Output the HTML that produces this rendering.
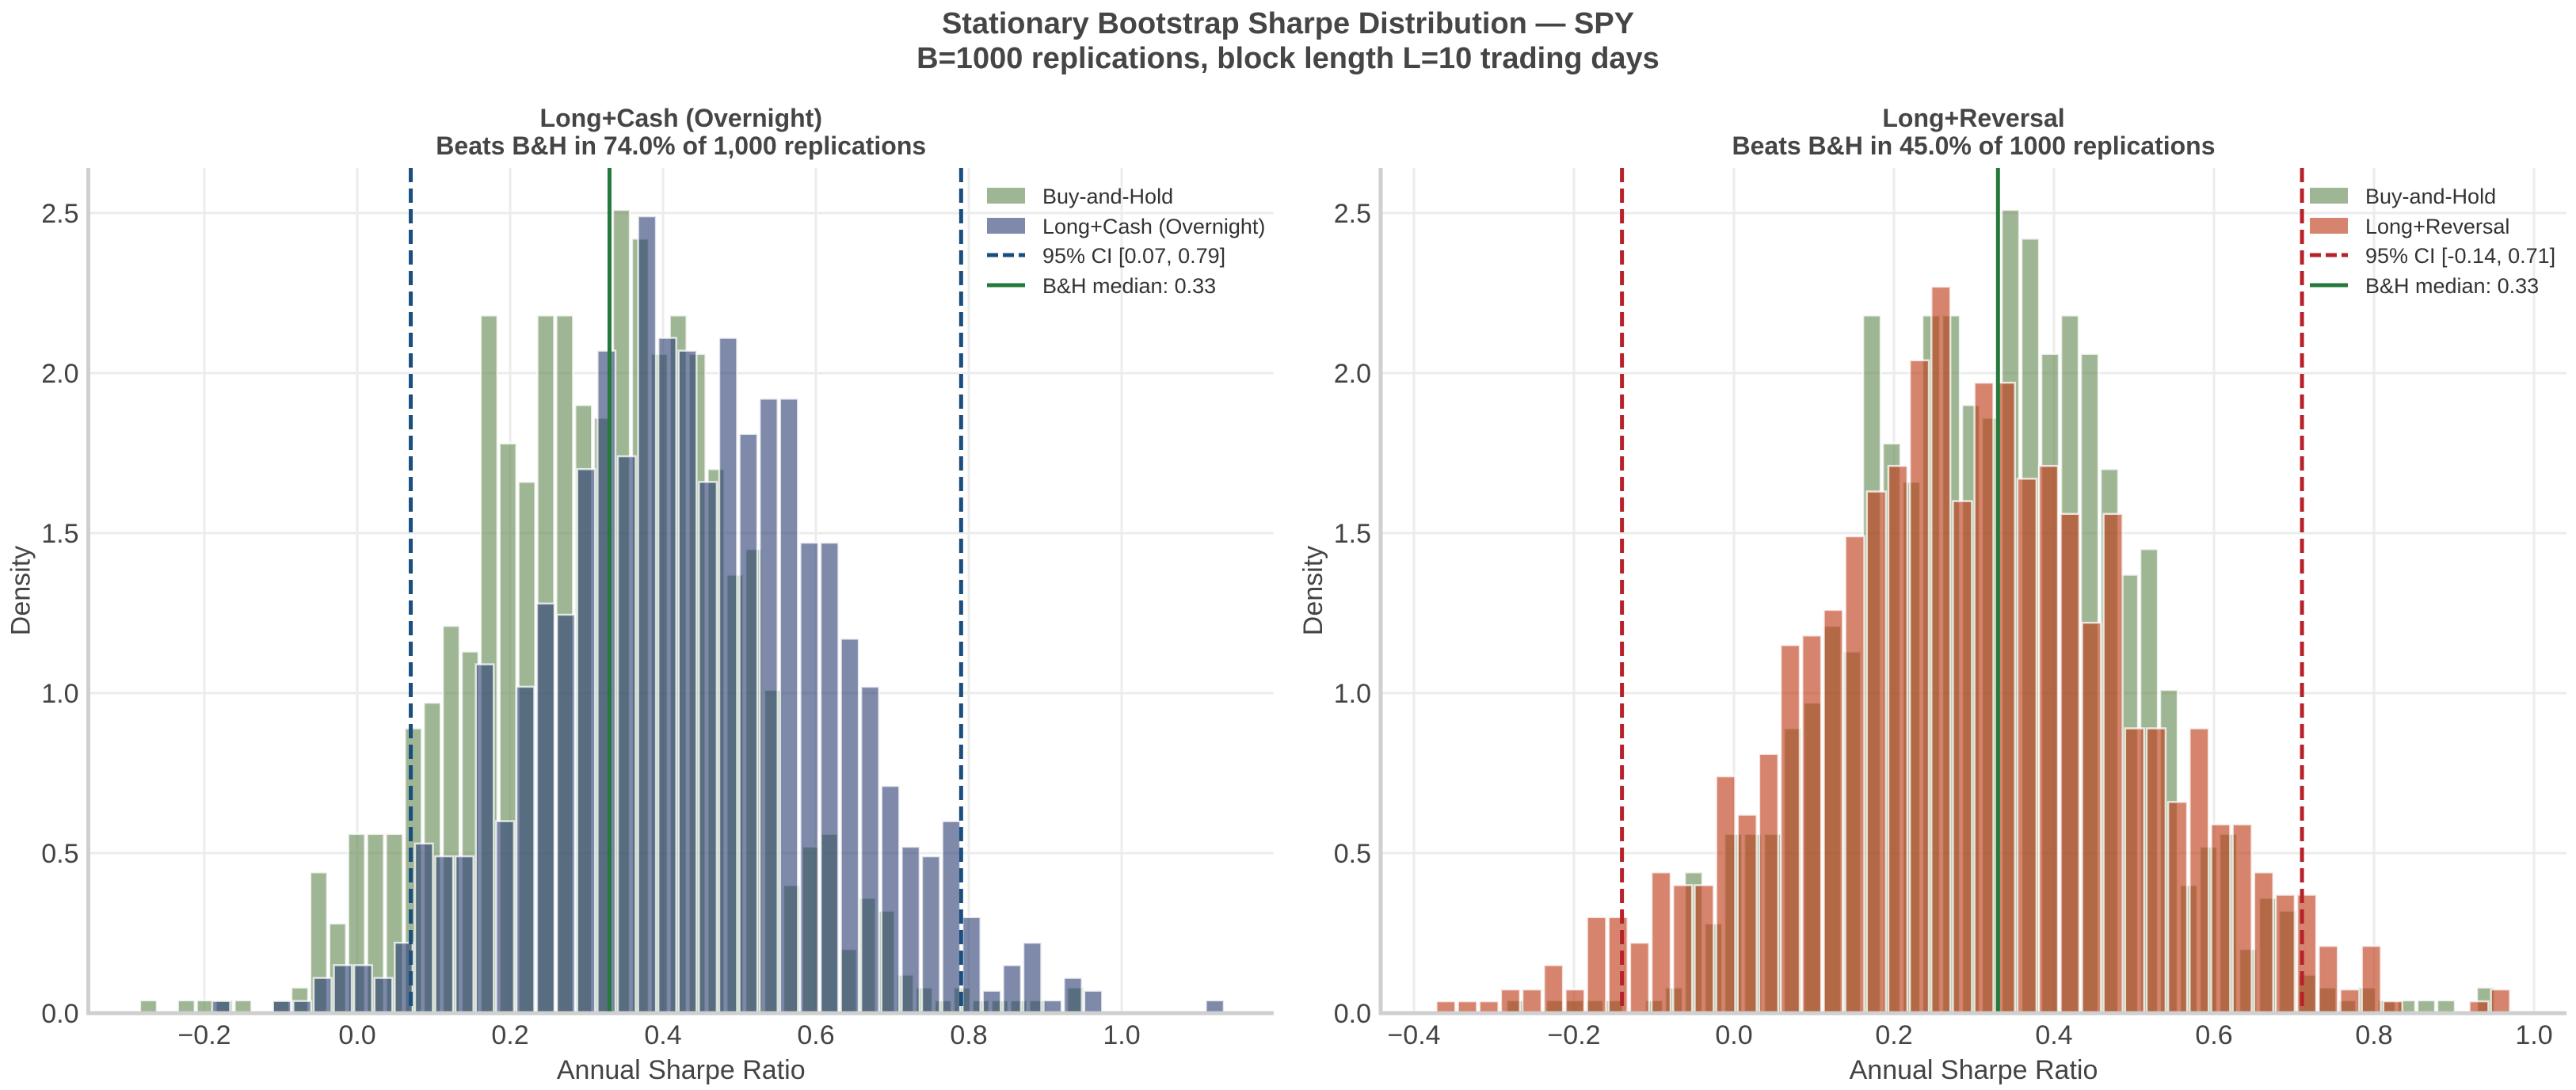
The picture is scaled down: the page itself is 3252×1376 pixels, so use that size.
<!DOCTYPE html>
<html><head><meta charset="utf-8"><style>
html,body{margin:0;padding:0;background:#fff;}
svg{display:block;font-family:"Liberation Sans",sans-serif;}
</style></head><body>
<svg id="chart" width="3252" height="1376" viewBox="0 0 3252 1376" xmlns="http://www.w3.org/2000/svg">
<text x="1626" y="42" text-anchor="middle" font-size="38" font-weight="bold" fill="#454545">Stationary Bootstrap Sharpe Distribution — SPY</text>
<text x="1626" y="86" text-anchor="middle" font-size="38" font-weight="bold" fill="#454545">B=1000 replications, block length L=10 trading days</text>
<g id="left"></g>
<g id="right"></g>
</svg>
<script>
// Buy-and-Hold density (50 bins)
const bhStart = -0.2855;
const bhWidth = 0.02475;
const bhDensity = [0.04,0,0.04,0.04,0.04,0.04,0,0.04,0.08,0.44,0.28,0.56,0.56,0.56,0.89,0.97,1.21,1.13,2.18,1.78,1.66,2.18,2.18,1.90,1.86,2.51,2.42,2.06,2.18,2.06,1.70,1.37,1.45,1.01,0.40,0.52,0.56,0.20,0.36,0.32,0.12,0.08,0.04,0.08,0.04,0.04,0.04,0.04,0,0.08];
// Long+Cash (Overnight) density
const lcStart = -0.1913;
const lcWidth = 0.02653;
const lcDensity = [0.038,0,0,0.038,0.038,0.11,0.15,0.15,0.11,0.22,0.53,0.49,0.49,1.09,0.60,1.02,1.28,1.245,1.70,2.07,1.74,2.49,2.11,2.07,1.66,2.11,1.81,1.92,1.92,1.47,1.47,1.17,1.02,0.71,0.52,0.49,0.60,0.30,0.07,0.15,0.22,0.04,0.11,0.07,0,0,0,0,0,0.04];
// Long+Reversal density
const lrStart = -0.3735;
const lrWidth = 0.0269;
const lrDensity = [0.037,0.037,0.037,0.074,0.074,0.15,0.074,0.30,0.30,0.22,0.44,0.40,0.40,0.74,0.62,0.81,1.15,1.18,1.26,1.49,1.63,1.71,2.04,2.27,1.60,1.97,1.97,1.67,1.71,1.56,1.22,1.56,0.89,0.89,0.66,0.89,0.59,0.59,0.44,0.37,0.37,0.21,0.074,0.21,0.037,0,0,0,0.037,0.074];
// Reference lines
const leftCI = [0.07, 0.79];
const rightCI = [-0.14, 0.71];
const bhMedian = 0.33;
const yTicks = [0.0, 0.5, 1.0, 1.5, 2.0, 2.5];
const leftXTicks = [-0.2, 0.0, 0.2, 0.4, 0.6, 0.8, 1.0];
const rightXTicks = [-0.4, -0.2, 0.0, 0.2, 0.4, 0.6, 0.8, 1.0];

const NS = "http://www.w3.org/2000/svg";
function mk(parent, tag, attrs, text){
  const e = document.createElementNS(NS, tag);
  for (const k in attrs) e.setAttribute(k, attrs[k]);
  if (text !== undefined) e.textContent = text;
  parent.appendChild(e);
  return e;
}
function fmt(v){ return (v < 0 ? "\u2212" : "") + Math.abs(v).toFixed(1); }

function panel(g, cfg){
  const L = cfg.left, R = cfg.right, T = 212, B = 1279;
  const xs = v => cfg.x0 + v * cfg.xu;
  const ys = v => B - v * 404;
  // grid
  yTicks.forEach(t => {
    const gl = mk(g, "line", {x1:L, x2:R, y1:ys(t), y2:ys(t), stroke:"#ececec", "stroke-width":3});
    
    
  });
  cfg.xticks.forEach(t => {
    const gl = mk(g, "line", {x1:xs(t), x2:xs(t), y1:T, y2:B, stroke:"#ececec", "stroke-width":3});
    
    
  });
  // histograms
  function hist(start, w, dens, fill, op, name){
    dens.forEach((d, i) => {
      if (d <= 0) return;
      const x = xs(start + i * w), wpx = w * cfg.xu;
      const r = mk(g, "rect", {x:x + wpx*0.06, y:ys(d), width:wpx*0.88, height:B - ys(d), fill:fill, "fill-opacity":op, stroke:"#ffffff", "stroke-opacity":0.75, "stroke-width":2.5});
      
      
    });
  }
  hist(bhStart, bhWidth, bhDensity, "rgb(107,143,90)", 0.65, "bh-bar");
  hist(cfg.sStart, cfg.sWidth, cfg.sDens, cfg.sColor, cfg.sOp, cfg.sName);
  // CI lines
  cfg.ci.forEach(v => {
    const l = mk(g, "line", {x1:xs(v), x2:xs(v), y1:T, y2:B, stroke:cfg.ciColor, "stroke-width":5, "stroke-dasharray":"18,8"});
    
    
  });
  const m = mk(g, "line", {x1:xs(bhMedian), x2:xs(bhMedian), y1:T, y2:B, stroke:"#237a3b", "stroke-width":5});
  
  
  // spines
  const sl = mk(g, "line", {x1:L, x2:L, y1:T, y2:B+2, stroke:"#cfcfcf", "stroke-width":5});
  
  
  const sb = mk(g, "line", {x1:L-2, x2:R, y1:B, y2:B, stroke:"#cfcfcf", "stroke-width":5});
  
  
  // tick labels
  yTicks.forEach(t => {
    const tl = mk(g, "text", {x:L-12, y:ys(t)+12, "text-anchor":"end", "font-size":34, fill:"#444"}, t.toFixed(1));
    
    
  });
  cfg.xticks.forEach(t => {
    const tl = mk(g, "text", {x:xs(t), y:1318, "text-anchor":"middle", "font-size":34, fill:"#444"}, fmt(t));
    
    
  });
  const xl = mk(g, "text", {x:(L+R)/2, y:1362, "text-anchor":"middle", "font-size":34, fill:"#444"}, "Annual Sharpe Ratio");
  
  
  const yl = mk(g, "text", {x:0, y:0, "text-anchor":"middle", "font-size":34, fill:"#444", transform:`translate(${L-74},${(T+B)/2}) rotate(-90)`}, "Density");
  
  
  // titles
  const t1 = mk(g, "text", {x:(L+R)/2, y:160, "text-anchor":"middle", "font-size":32, "font-weight":"bold", fill:"#454545"}, cfg.title1);
  
  
  const t2 = mk(g, "text", {x:(L+R)/2, y:195, "text-anchor":"middle", "font-size":32, "font-weight":"bold", fill:"#454545"}, cfg.title2);
  
  
  // legend
  const lx = cfg.legX, ly = [247, 285, 322, 360];
  const items = [
    {t:"Buy-and-Hold", kind:"patch", c:"rgb(107,143,90)", o:0.65},
    {t:cfg.sLabel, kind:"patch", c:cfg.sColor, o:cfg.sOp},
    {t:cfg.ciLabel, kind:"dash", c:cfg.ciColor},
    {t:"B&H median: 0.33", kind:"line", c:"#237a3b"}
  ];
  items.forEach((it, i) => {
    const eg = mk(g, "g", {});
    
    
    if (it.kind === "patch") mk(eg, "rect", {x:lx, y:ly[i]-10, width:48, height:20, fill:it.c, "fill-opacity":it.o});
    else mk(eg, "line", {x1:lx, x2:lx+48, y1:ly[i], y2:ly[i], stroke:it.c, "stroke-width":5, "stroke-dasharray": it.kind==="dash" ? "14,6" : "none"});
    mk(eg, "text", {x:lx+70, y:ly[i]+10, "font-size":27, fill:"#333"}, it.t);
  });
}

panel(document.getElementById("left"), {
  left:111.5, right:1608, x0:451, xu:965, xticks:leftXTicks,
  sStart:lcStart, sWidth:lcWidth, sDens:lcDensity, sColor:"rgb(42,60,115)", sOp:0.6, sName:"long-cash-bar",
  sLabel:"Long+Cash (Overnight)", ci:leftCI, ciColor:"#1a4e7e", ciLabel:"95% CI [0.07, 0.79]",
  title1:"Long+Cash (Overnight)", title2:"Beats B&H in 74.0% of 1,000 replications", legX:1246
});
panel(document.getElementById("right"), {
  left:1743, right:3240, x0:2189, xu:1010, xticks:rightXTicks,
  sStart:lrStart, sWidth:lrWidth, sDens:lrDensity, sColor:"rgb(190,60,25)", sOp:0.63, sName:"long-reversal-bar",
  sLabel:"Long+Reversal", ci:rightCI, ciColor:"#b7222a", ciLabel:"95% CI [-0.14, 0.71]",
  title1:"Long+Reversal", title2:"Beats B&H in 45.0% of 1000 replications", legX:2916
});
</script>
</body></html>
